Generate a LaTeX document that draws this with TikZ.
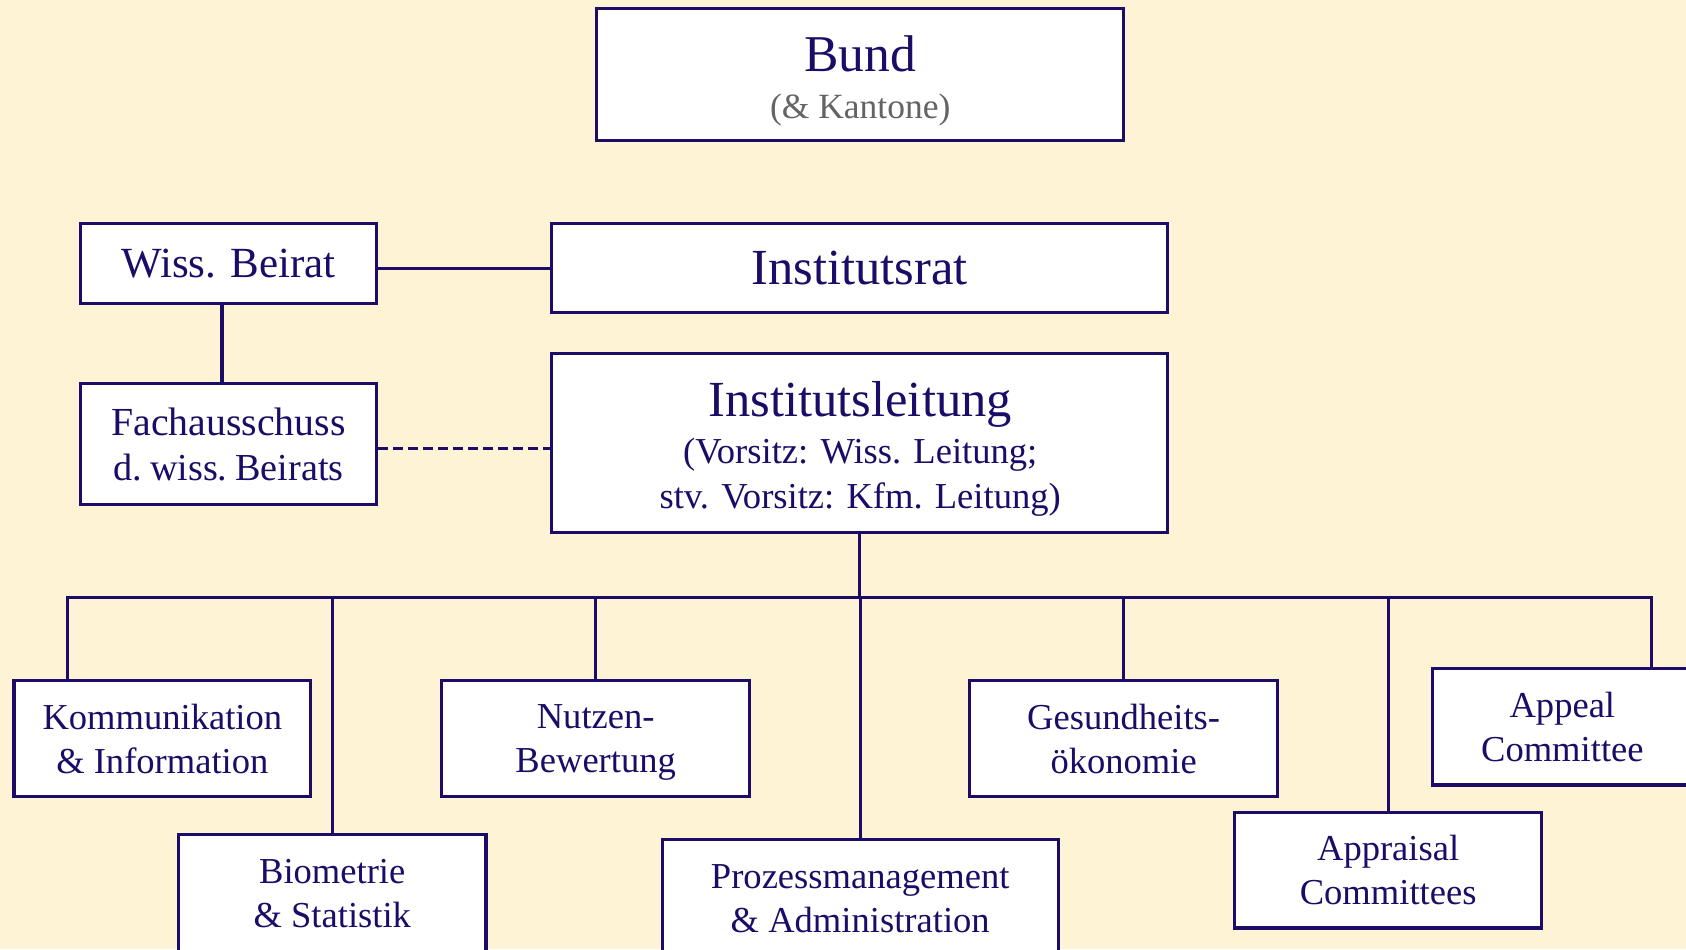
\documentclass[tikz,border=0pt]{standalone}
\usepackage{fontspec}
\setmainfont{Liberation Serif}
\definecolor{navy}{RGB}{28,12,104}
\definecolor{bgc}{RGB}{255,243,214}
\definecolor{grayt}{RGB}{100,100,100}
\begin{document}
\begin{tikzpicture}[x=1pt,y=-1pt,
  box/.style={draw=navy,fill=white,line width=2.9pt,inner sep=0pt,align=center,text=navy},
  lbl/.style={inner sep=0pt,align=center,text=navy},
  conn/.style={draw=navy,line width=3pt},
  child/.style={box,font=\fontsize{34}{41}\selectfont},
]
\fill[bgc] (0,0) rectangle (1568,883);
\useasboundingbox (0,0) rectangle (1568,883);
\clip (0,0) rectangle (1568,883);

% top boxes
\node[box,minimum width=490pt,minimum height=123pt] (bund) at (800,69.5) {};
\node[lbl,font=\fontsize{48}{52}\selectfont] (bundt) at (800,50) {Bund};
\node[lbl,text=grayt,font=\fontsize{33}{38}\selectfont] (kant) at (800,102) {(\& Kantone)};

\node[box,minimum width=275pt,minimum height=74pt,font=\fontsize{40}{44}\selectfont] (wb) at (212.5,245) {Wiss. Beirat};
\node[box,minimum width=573pt,minimum height=83pt,font=\fontsize{47}{52}\selectfont] (ir) at (799.5,249.5) {Institutsrat};
\node[box,minimum width=275pt,minimum height=112pt,font=\fontsize{37}{42}\selectfont] (fa) at (212.5,413) {Fachausschuss\\{\fontsize{35.5}{42}\selectfont\spaceskip=4.5pt\relax d. wiss. Beirats}};
\node[box,minimum width=573pt,minimum height=166pt] (il) at (799.5,412) {};
\node[lbl,font=\fontsize{47}{52}\selectfont] (ilt) at (800,376) {Institutsleitung};
\node[lbl,font=\fontsize{34}{42}\selectfont] (ils) at (800,444) {(Vorsitz: Wiss. Leitung;\\stv. Vorsitz: Kfm. Leitung)};

% children
\node[child,minimum width=276pt,minimum height=108pt] (k) at (151,687) {Kommunikation\\\& Information};
\node[child,minimum width=286pt,minimum height=110pt] (b) at (309,831) {Biometrie\\\& Statistik};
\node[child,minimum width=286pt,minimum height=108pt] (n) at (554,687) {Nutzen-\\\raisebox{0pt}[\height][0pt]{Bewertung}};
\node[child,minimum width=368pt,minimum height=109pt] (p) at (800,835.5) {Prozessmanagement\\\& Administration};
\node[child,minimum width=286pt,minimum height=108pt] (g) at (1045,687) {Gesundheits-\\ökonomie};
\node[child,minimum width=286pt,minimum height=107pt] (ac) at (1291,809.5) {Appraisal\\Committees};
\node[child,minimum width=242pt,minimum height=108pt] (ap) at (1453,676) {Appeal\\Committee};

% connectors
\draw[conn] (wb.east |- ir.west) -- (ir.west);
\draw[conn] ([xshift=-6pt]wb.south) -- ([xshift=-6pt]wb.south |- fa.north);
\draw[conn,dashed,dash pattern=on 9pt off 5pt] (fa.east |- 0,417) -- (il.west |- 0,417);

\coordinate (busL) at (63,556);
\coordinate (busR) at (1536,556);
\draw[conn] (il.south) -- (il.south |- busL);
\draw[conn] (busL |- k.north) -- (busL) -- (busR) -- (busR |- ap.north);
\draw[conn] (b.north |- busL) -- (b.north);
\draw[conn] (n.north |- busL) -- (n.north);
\draw[conn] (p.north |- busL) -- (p.north);
\draw[conn] (g.north |- busL) -- (g.north);
\draw[conn] (ac.north |- busL) -- (ac.north);
\end{tikzpicture}
\end{document}
